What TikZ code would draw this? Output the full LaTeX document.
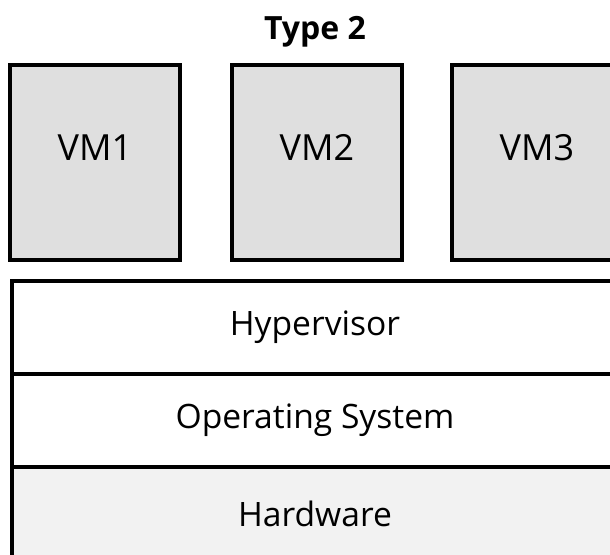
\documentclass[tikz,border=0pt]{standalone}
\usepackage{fontspec}
\setmainfont{Open Sans}
\begin{document}
\begin{tikzpicture}[x=0.5pt,y=-0.5pt,
  box/.style={draw=black, line width=1.8pt, inner sep=0pt, outer sep=0pt,
    font=\fontsize{16.8}{20}\selectfont},
  vmbox/.style={box, fill=gray!25, minimum width=85pt, minimum height=97.5pt,
    font=\fontsize{18}{21}\selectfont, text height=12pt, text depth=14pt},
  layerbox/.style={box, minimum width=303pt, minimum height=46.5pt},
  titletext/.style={font=\fontsize{16}{19}\selectfont\bfseries}]
\useasboundingbox (0,0) rectangle (610,555);
\clip (0,0) rectangle (610,555);
\node[titletext] (title) at (315,32) {Type 2};
\node[vmbox] (vm1) at (95,162.5) {VM1};
\node[vmbox] (vm2) at (317,162.5) {VM2};
\node[vmbox] (vm3) at (537,162.5) {VM3};
\node[layerbox, fill=white] (hyp) at (315,327.5) {Hypervisor};
\node[layerbox, fill=white] (os) at (315,420.5) {Operating System};
\node[layerbox, fill=gray!10] (hw) at (315,513.5) {Hardware};
\end{tikzpicture}
\end{document}
